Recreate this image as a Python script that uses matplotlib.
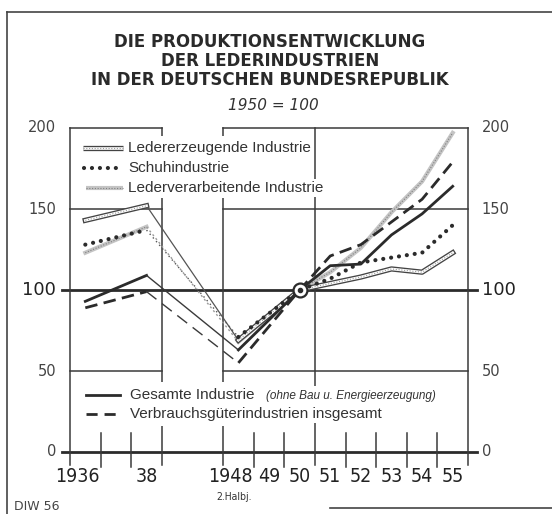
import matplotlib
matplotlib.use("Agg")
import matplotlib.pyplot as plt
from matplotlib.lines import Line2D

W, H = 552, 514

# Produktionsindex 1950 = 100
years = [1936, 1938, 1948, 1950, 1951, 1952, 1953, 1954, 1955]
gesamte = [93, 109, 63, 100, 115, 116, 134, 147, 164]
verbrauch = [89, 99, 55, 100, 121, 128, 142, 156, 179]
ledererz = [143, 152, 69, 100, 104, 108, 113, 111, 123]
schuh = [128, 137, 71, 100, 107, 117, 120, 123, 140]
lederverarb = [123, 139, 68, 100, 111, 126, 148, 167, 197]

label_years = [1936, 1938, 1948, 1949, 1950, 1951, 1952, 1953, 1954, 1955]
label_text = ['1936', '38', '1948', '49', '50', '51', '52', '53', '54', '55']
yticks = [0, 50, 100, 150, 200]

ink = '#2b2b2b'


def slot(y):
    # 1936-38 links, Bruch, dann 1948-55
    if y < 1940:
        return y - 1936 + 0.5
    return y - 1948 + 5.5


def px(x, y):
    return x / W, 1 - y / H


xs = [slot(y) for y in years]

fig = plt.figure(figsize=(W / 100, H / 100), dpi=100)
fig.patch.set_facecolor('white')
ax = fig.add_axes([70 / W, (H - 452) / H, 398 / W, 324 / H])
ax.set_xlim(0, 13)
ax.set_ylim(0, 200)
ax.axis('off')

# Rahmen / Gitter
grid_kw = dict(color='#3a3a3a', lw=1.1, clip_on=False, zorder=1)
for v in [50, 150, 200]:
    ax.plot([0, 3], [v, v], **grid_kw)
    ax.plot([5, 13], [v, v], **grid_kw)
for v in [0, 100]:
    ax.plot([-0.25, 13.3], [v, v], color=ink, lw=2.0, clip_on=False, zorder=1)
for s in [0, 3, 5, 8, 13]:
    ax.plot([s, s], [-8, 200], **grid_kw)
for s in [1, 2, 6, 7, 9, 10, 11, 12]:
    ax.plot([s, s], [-9, 12], **grid_kw)


def draw(vals, thick, thin):
    for a, b, kw in [(0, 2, thick), (1, 3, thin), (2, len(xs), thick)]:
        ax.plot(xs[a:b], vals[a:b], clip_on=False, **kw)


# Lederverarbeitende Industrie (grau schraffiert)
draw(lederverarb, dict(color='#c4c4c4', lw=3.0, zorder=3),
     dict(color='#9a9a9a', lw=1.0, ls=(0, (1.5, 2)), zorder=3))
ax.plot(xs[:2], lederverarb[:2], color='#808080', lw=0.8, ls=(0, (1, 1.5)), zorder=3)
ax.plot(xs[2:], lederverarb[2:], color='#808080', lw=0.8, ls=(0, (1, 1.5)), zorder=3)

# Ledererzeugende Industrie (Doppellinie)
draw(ledererz, dict(color='#444444', lw=3.8, zorder=4),
     dict(color='#555555', lw=0.9, zorder=4))
ax.plot(xs[:2], ledererz[:2], color='white', lw=1.9, zorder=4)
ax.plot(xs[2:], ledererz[2:], color='white', lw=1.9, zorder=4)
ax.plot(xs[:2], ledererz[:2], color='#9a9a9a', lw=0.8, ls=(0, (1, 1.5)), zorder=4)
ax.plot(xs[2:], ledererz[2:], color='#9a9a9a', lw=0.8, ls=(0, (1, 1.5)), zorder=4)

# Schuhindustrie (gepunktet)
draw(schuh, dict(color=ink, lw=3.0, ls=(0, (0.01, 1.9)), dash_capstyle='round', zorder=5),
     dict(color='#555555', lw=1.0, ls=(0, (1, 2.5)), zorder=5))

# Verbrauchsgueterindustrien
draw(verbrauch, dict(color=ink, lw=2.0, ls=(0, (4.5, 2.3)), zorder=6),
     dict(color='#3a3a3a', lw=1.0, ls=(0, (9, 5)), zorder=6))

# Gesamte Industrie
draw(gesamte, dict(color=ink, lw=2.0, zorder=7),
     dict(color='#3a3a3a', lw=1.0, zorder=7))

# Basispunkt 1950
ax.plot([slot(1950)], [100], marker='o', ms=10, mfc='white', mec=ink, mew=1.6,
        zorder=9, clip_on=False)
ax.plot([slot(1950)], [100], marker='o', ms=3, color=ink, zorder=10, clip_on=False)

# Legende oben
leg_font = dict(family='Liberation Sans', fontsize=11, color='#333333')
box = dict(facecolor='white', edgecolor='none', pad=1.5)
rows = [('Ledererzeugende Industrie', 187.6),
        ('Schuhindustrie', 175.3),
        ('Lederverarbeitende Industrie', 163.0)]
h0, h1, tx = 0.42, 1.73, 1.9
ax.add_patch(plt.Rectangle((0.3, 157), 7.3, 38, facecolor='white', edgecolor='none', zorder=2))
for label, v in rows:
    ax.text(tx, v, label, va='center', ha='left', bbox=box, zorder=8, **leg_font)
v = rows[0][1]
ax.plot([h0, h1], [v, v], color='#444444', lw=3.8, zorder=8, solid_capstyle='butt')
ax.plot([h0, h1], [v, v], color='white', lw=1.9, zorder=8, solid_capstyle='butt')
ax.plot([h0, h1], [v, v], color='#9a9a9a', lw=0.8, ls=(0, (1, 1.5)), zorder=8)
v = rows[1][1]
ax.plot([h0 + 0.05, h1], [v, v], color=ink, lw=3.0, ls=(0, (0.01, 1.9)),
        dash_capstyle='round', zorder=8)
v = rows[2][1]
ax.plot([h0 + 0.1, h1], [v, v], color='#c4c4c4', lw=3.0, zorder=8, solid_capstyle='butt')
ax.plot([h0 + 0.1, h1], [v, v], color='#808080', lw=0.8, ls=(0, (1, 1.5)), zorder=8)

# Legende unten
ax.add_patch(plt.Rectangle((0.3, 16), 5.1, 27, facecolor='white', edgecolor='none', zorder=2))
v1, v2 = 35.2, 23.5
ax.plot([0.52, 1.63], [v1, v1], color=ink, lw=2.0, zorder=8)
ax.plot([0.52, 1.63], [v2, v2], color=ink, lw=2.0, ls=(0, (4, 2.5)), zorder=8)
ax.text(1.96, v1, 'Gesamte Industrie', va='center', ha='left', zorder=8, bbox=box, **leg_font)
ax.text(6.4, v1 - 0.5, '(ohne Bau u. Energieerzeugung)', va='center', ha='left',
        family='Liberation Sans', style='italic', fontsize=8.5, color='#333333', zorder=8,
        bbox=dict(facecolor='white', edgecolor='none', pad=3))
ax.text(1.96, v2, 'Verbrauchsgüterindustrien insgesamt', va='center', ha='left',
        zorder=8, bbox=box, **leg_font)

# Achsenbeschriftung
for t in yticks:
    big = t == 100
    fs = 13 if big else 10.5
    col = '#222222' if big else '#444444'
    ax.text(-0.45, t, str(t), ha='right', va='center', fontsize=fs, color=col,
            family='DejaVu Sans', clip_on=False)
    ax.text(13.45, t, str(t), ha='left', va='center', fontsize=fs, color=col,
            family='DejaVu Sans', clip_on=False)

for yr, lab in zip(label_years, label_text):
    x = slot(yr)
    if len(lab) == 4:
        x -= 0.25
    ax.text(x, -15, lab, ha='center', va='center', fontsize=14,
            family='DejaVu Sans', fontstretch='condensed', color='#222222', clip_on=False)
ax.text(slot(1948) - 0.15, -28, '2.Halbj.', ha='center', va='center', fontsize=7.5,
        family='DejaVu Sans', fontstretch='condensed', color='#333333', clip_on=False)

# Titel
title_kw = dict(ha='center', va='center', fontsize=12, fontweight='bold',
                family='DejaVu Sans', color='#2a2a2a')
fig.text(*px(270, 42), 'DIE PRODUKTIONSENTWICKLUNG', **title_kw)
fig.text(*px(270, 61), 'DER LEDERINDUSTRIEN', **title_kw)
fig.text(*px(270, 80), 'IN DER DEUTSCHEN BUNDESREPUBLIK', **title_kw)
fig.text(*px(273, 106), '1950 = 100', ha='center', va='center', fontsize=11,
         style='italic', family='DejaVu Sans', color='#333333')
fig.text(*px(14, 506), 'DIW 56', ha='left', va='center', fontsize=9,
         family='DejaVu Sans', color='#444444')

# Blattrand
fig.add_artist(Line2D([7 / W, 7 / W], [0, 1 - 12 / H], color='#444444', lw=1.2))
fig.add_artist(Line2D([7 / W, 1], [1 - 12 / H, 1 - 12 / H], color='#444444', lw=1.2))
fig.add_artist(Line2D([330 / W, 1], [1 - 508 / H, 1 - 508 / H], color='#444444', lw=1.2))

fig.savefig('out.png', dpi=100, facecolor='white')
